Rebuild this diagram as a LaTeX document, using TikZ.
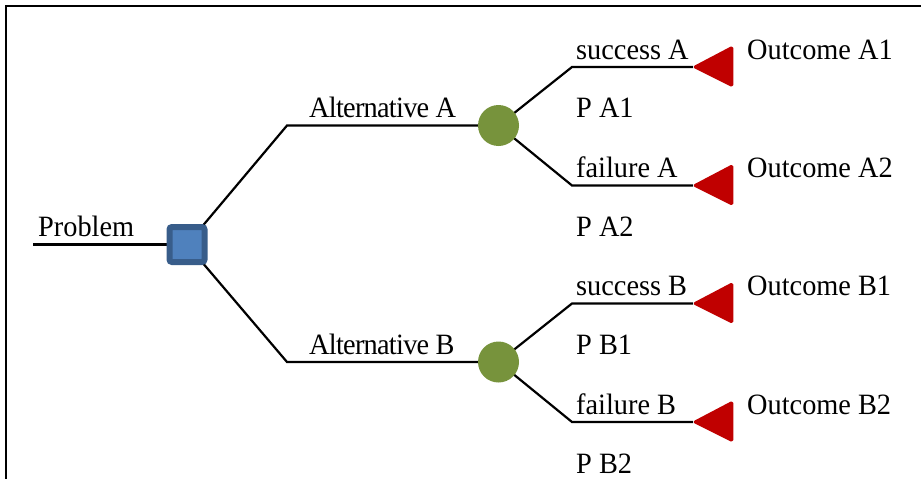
\documentclass[tikz,border=0pt]{standalone}
\usepackage{fontspec}
\setmainfont{Liberation Serif}[FakeStretch=0.96]
\usetikzlibrary{backgrounds}
\definecolor{sqfill}{HTML}{4F81BD}
\definecolor{sqline}{HTML}{385D8A}
\definecolor{chancec}{HTML}{77933C}
\definecolor{termc}{HTML}{C00000}
\begin{document}
\begin{tikzpicture}[x=1pt,y=-1pt,
  edge/.style={line width=2.2pt, black},
  decision/.style={draw=sqline, fill=sqfill, line width=6pt, minimum size=35pt, inner sep=0pt, rounded corners=2.5pt},
  chance/.style={circle, fill=chancec, minimum size=41pt, inner sep=0pt},
  term/.style={fill=termc, draw=termc, line width=1.5pt, line join=round, rounded corners=1.5pt},
  lbl/.style={anchor=base west, inner sep=0pt, font=\fontsize{29.5}{31}\selectfont},
  altlbl/.style={lbl, font=\fontsize{29.5}{31}\selectfont\addfontfeatures{LetterSpace=-2.5}}]
\useasboundingbox (0,0) rectangle (921,479);
\draw[line width=2.2pt] (6,479) -- (6,6) -- (921,6);
% nodes
\node[decision] (root) at (187,244.5) {};
\node[chance] (cA) at (498.5,125.5) {};
\node[chance] (cB) at (498.5,362) {};
\coordinate (start) at (33,244.5);
\coordinate (kA) at (287,125.5);
\coordinate (kB) at (287,362);
\coordinate (kA1) at (572,67);
\coordinate (kA2) at (572,185.5);
\coordinate (kB1) at (572,303.5);
\coordinate (kB2) at (572,422);
\coordinate (tA1) at (693,67);
\coordinate (tA2) at (693,185.5);
\coordinate (tB1) at (693,303.5);
\coordinate (tB2) at (693,422);
% edges
\begin{scope}[on background layer]
\draw[edge] (start) -- (root.center);
\draw[edge] (root.center) -- (kA) -- (cA.center);
\draw[edge] (root.center) -- (kB) -- (cB.center);
\draw[edge] (cA.center) -- (kA1) -- (tA1);
\draw[edge] (cA.center) -- (kA2) -- (tA2);
\draw[edge] (cB.center) -- (kB1) -- (tB1);
\draw[edge] (cB.center) -- (kB2) -- (tB2);
\end{scope}
% terminal triangles
\foreach \t in {tA1,tA2,tB1,tB2}
  \filldraw[term] ([xshift=0.5pt]\t) -- ++(39,-20.5) -- ++(0,40) -- cycle;
% labels
\node[lbl] (lProb) at (38,236) {Problem};
\node[altlbl] (lAltA) at (309,117.5) {Alternative A};
\node[altlbl] (lAltB) at (309,354) {Alternative B};
\node[lbl] (lsA) at (576,59) {success A};
\node[lbl] (lpA1) at (576,117) {P A1};
\node[lbl] (lfA) at (576,177.5) {failure A};
\node[lbl] (lpA2) at (576,236) {P A2};
\node[lbl] (lsB) at (576,295.5) {success B};
\node[lbl] (lpB1) at (576,354) {P B1};
\node[lbl] (lfB) at (576,414) {failure B};
\node[lbl] (lpB2) at (576,473) {P B2};
\node[lbl] (oA1) at (747,59) {Outcome A1};
\node[lbl] (oA2) at (747,177.5) {Outcome A2};
\node[lbl] (oB1) at (747,295.5) {Outcome B1};
\node[lbl] (oB2) at (747,414) {Outcome B2};
\end{tikzpicture}
\end{document}
